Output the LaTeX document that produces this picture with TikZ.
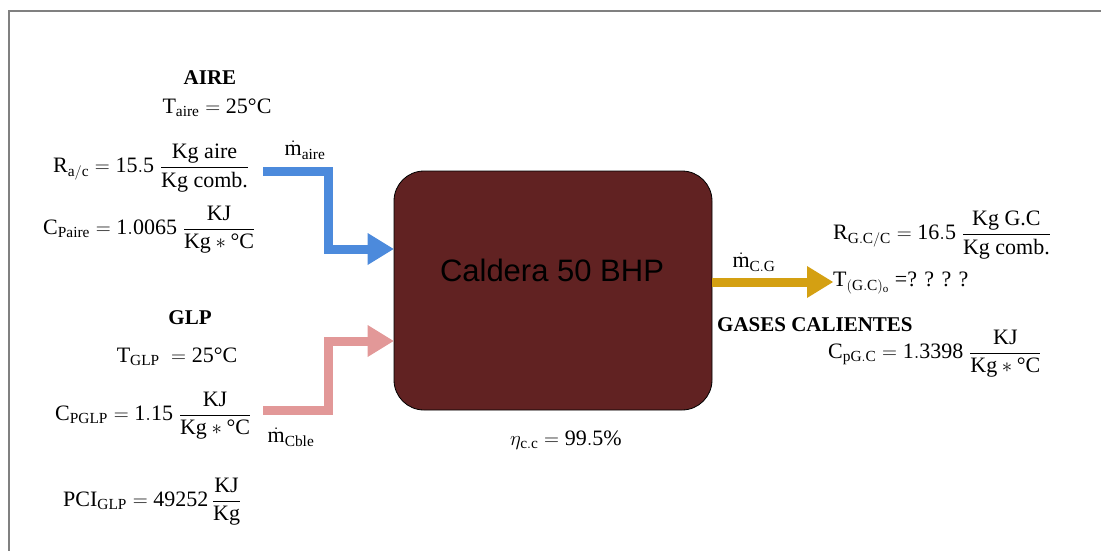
\documentclass[tikz,border=0pt]{standalone}
\usepackage{amsmath}
\usepackage{fontspec}
\setmainfont{Liberation Serif}
\newfontfamily\cajafont{Liberation Sans}
\usetikzlibrary{arrows.meta,positioning}

\definecolor{aireazul}{RGB}{76,138,220}
\definecolor{glprosa}{RGB}{226,152,152}
\definecolor{gasoro}{RGB}{212,160,18}
\definecolor{calderarojo}{RGB}{97,34,34}
\definecolor{marco}{RGB}{128,128,128}

\begin{document}
\begin{tikzpicture}[x=1pt,y=-1pt,
  dato/.style={inner sep=0pt, font=\fontsize{22}{26}\selectfont},
  titulo/.style={inner sep=0pt, font=\fontsize{21}{25}\selectfont\bfseries},
  flujo/.style={line width=9pt, -{Triangle[length=26pt,width=32pt,line width=0pt]}},
  caldera/.style={draw=black, fill=calderarojo, line width=0.8pt, rounded corners=30pt,
    minimum width=318pt, minimum height=239pt}]
\useasboundingbox (0,0) rectangle (1101,551);
\draw[marco, line width=2.5pt] (9,560) |- (1110,11);

\node[caldera] (caldera) at (553,290.5) {};
\node[font=\fontsize{31}{37}\selectfont\cajafont] (nombre) at (552,270) {Caldera 50 BHP};
\node[dato] (eta) at (566,440) {$\eta_{\mathrm{c.c}} = \mathrm{99.5\%}$};

% aire
\node[titulo] (aire) at (210,78) {AIRE};
\node[dato] (taire) at (217,108) {$\mathrm{T}_{\mathrm{aire}} = \mathrm{25}\text{°C}$};
\node[dato, anchor=west] (raire) at (53,168) {$\mathrm{R}_{\mathrm{a/c}} = \mathrm{15.5}\;\dfrac{\text{Kg aire}}{\text{Kg comb.}}$};
\node[dato, anchor=west] (cpaire) at (43,230) {$\mathrm{C}_{\mathrm{Paire}} = \mathrm{1.0065}\;\dfrac{\mathrm{KJ}}{\mathrm{Kg}\ast\text{°C}}$};
\node[dato] (maire) at (305,150) {$\dot{\mathrm{m}}_{\mathrm{aire}}$};

% glp
\node[titulo] (glp) at (190,318) {GLP};
\node[dato] (tglp) at (177,357) {$\mathrm{T}_{\mathrm{GLP}}\ = \mathrm{25}\text{°C}$};
\node[dato, anchor=west] (cpglp) at (55,416) {$\mathrm{C}_{\mathrm{PGLP}} = \mathrm{1.15}\;\dfrac{\mathrm{KJ}}{\mathrm{Kg}\ast\text{°C}}$};
\node[dato, anchor=west] (pci) at (63,502) {$\mathrm{PCI}_{\mathrm{GLP}} = \mathrm{49252}\,\dfrac{\mathrm{KJ}}{\mathrm{Kg}}$};
\node[dato] (mcble) at (291,437) {$\dot{\mathrm{m}}_{\mathrm{Cble}}$};

% gases calientes
\node[dato, anchor=west] (rgc) at (833,235) {$\mathrm{R}_{\mathrm{G.C/C}} = \mathrm{16.5}\;\dfrac{\text{Kg G.C}}{\text{Kg comb.}}$};
\node[dato, anchor=west] (tgas) at (833,283) {$\mathrm{T}_{(\mathrm{G.C})_{\mathrm{o}}}$ =? ? ? ?};
\node[titulo, anchor=west] (gases) at (717,325) {GASES CALIENTES};
\node[dato, anchor=west] (cpgc) at (828,354) {$\mathrm{C}_{\mathrm{pG.C}} = \mathrm{1.3398}\;\dfrac{\mathrm{KJ}}{\mathrm{Kg}\ast\text{°C}}$};
\node[dato] (mcg) at (754,262) {$\dot{\mathrm{m}}_{\mathrm{C.G}}$};

\coordinate (aire ini) at (263,171);
\coordinate (aire codo) at (328,249);
\coordinate (glp ini) at (263,410);
\coordinate (glp codo) at (328,341);
\coordinate (gas fin) at (833,282);
\draw[flujo, aireazul] (aire ini) -| (aire codo) -- (aire codo -| caldera.west);
\draw[flujo, glprosa] (glp ini) -| (glp codo) -- (glp codo -| caldera.west);
\draw[flujo, gasoro] (caldera.east |- gas fin) -- (gas fin);
\end{tikzpicture}
\end{document}
